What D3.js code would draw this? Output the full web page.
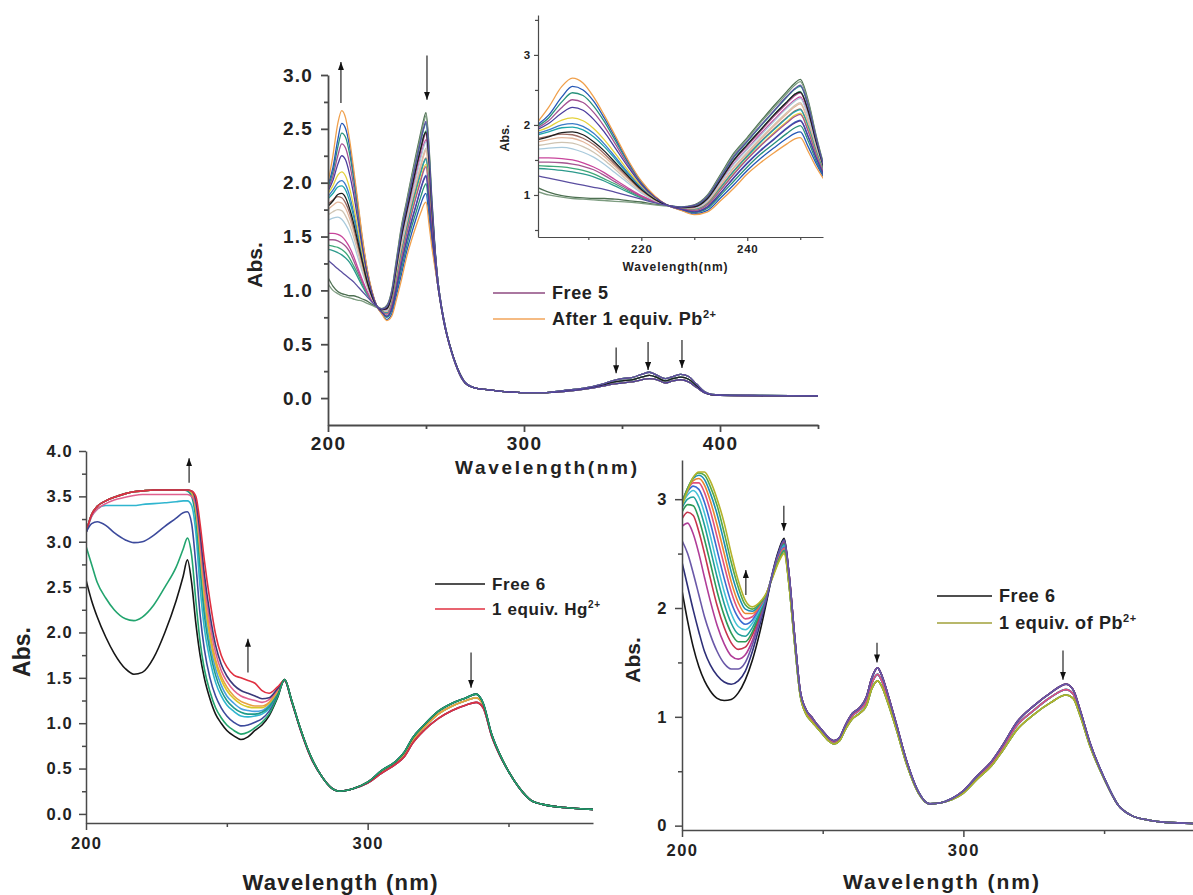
<!DOCTYPE html>
<html>
<head>
<meta charset="utf-8">
<script src="https://cdn.jsdelivr.net/npm/d3@7"></script>
<style>
  body { margin: 0; background: #fff; }
  svg text { font-family: "Liberation Sans", Arial, sans-serif; font-weight: bold; fill: #222; }
</style>
</head>
<body>
<svg id="chart" width="1193" height="895"></svg>
<script>
// ---------- Top panel: compound 5 titrated with Pb2+ (also used by the inset) ----------
const topGrid = [200, 202.5, 205, 207, 209, 211, 213, 215, 217.5, 220, 222.5, 225, 227.5, 230, 232.5, 235, 237.5, 240, 242.5, 245, 247.5, 249, 250, 251.5, 253, 254.5];
const top01 = [1.12, 1.04, 0.99, 0.97, 0.96, 0.95, 0.95, 0.94, 0.92, 0.90, 0.87, 0.85, 0.83, 0.86, 1.00, 1.30, 1.60, 1.82, 2.05, 2.27, 2.48, 2.60, 2.65, 2.35, 1.85, 1.42];
const top02 = [1.06, 1.00, 0.97, 0.95, 0.94, 0.93, 0.92, 0.91, 0.90, 0.88, 0.86, 0.84, 0.83, 0.85, 0.99, 1.28, 1.58, 1.80, 2.03, 2.24, 2.45, 2.57, 2.62, 2.32, 1.83, 1.41];
const top03 = [1.28, 1.24, 1.20, 1.17, 1.14, 1.11, 1.08, 1.04, 0.99, 0.94, 0.89, 0.85, 0.825, 0.85, 0.98, 1.26, 1.55, 1.77, 1.99, 2.20, 2.41, 2.52, 2.57, 2.28, 1.81, 1.40];
const top04 = [1.38, 1.37, 1.35, 1.33, 1.30, 1.26, 1.20, 1.13, 1.04, 0.96, 0.90, 0.85, 0.825, 0.84, 0.97, 1.25, 1.54, 1.76, 1.98, 2.19, 2.40, 2.51, 2.55, 2.27, 1.80, 1.40];
const top05 = [1.42, 1.41, 1.40, 1.38, 1.35, 1.30, 1.23, 1.16, 1.06, 0.97, 0.90, 0.85, 0.82, 0.83, 0.95, 1.22, 1.50, 1.72, 1.93, 2.14, 2.33, 2.44, 2.48, 2.20, 1.76, 1.38];
const top06 = [1.47, 1.47, 1.46, 1.44, 1.41, 1.36, 1.28, 1.19, 1.08, 0.98, 0.90, 0.85, 0.82, 0.83, 0.94, 1.21, 1.49, 1.70, 1.91, 2.12, 2.31, 2.42, 2.46, 2.19, 1.75, 1.38];
const top07 = [1.53, 1.53, 1.52, 1.50, 1.46, 1.40, 1.32, 1.22, 1.10, 0.99, 0.91, 0.85, 0.815, 0.82, 0.93, 1.19, 1.45, 1.66, 1.87, 2.07, 2.26, 2.36, 2.40, 2.13, 1.72, 1.36];
const top08 = [1.65, 1.67, 1.68, 1.66, 1.61, 1.54, 1.44, 1.32, 1.17, 1.03, 0.92, 0.85, 0.815, 0.81, 0.92, 1.18, 1.44, 1.65, 1.85, 2.05, 2.24, 2.34, 2.38, 2.12, 1.71, 1.36];
const top09 = [1.70, 1.73, 1.75, 1.74, 1.69, 1.61, 1.50, 1.37, 1.20, 1.05, 0.93, 0.85, 0.81, 0.80, 0.90, 1.15, 1.40, 1.61, 1.81, 2.00, 2.18, 2.28, 2.32, 2.06, 1.67, 1.34];
const top10 = [1.75, 1.79, 1.82, 1.81, 1.76, 1.67, 1.55, 1.41, 1.23, 1.06, 0.93, 0.85, 0.81, 0.80, 0.89, 1.14, 1.39, 1.59, 1.79, 1.98, 2.16, 2.26, 2.30, 2.04, 1.66, 1.34];
const top11 = [1.80, 1.84, 1.87, 1.86, 1.81, 1.72, 1.59, 1.44, 1.25, 1.07, 0.94, 0.85, 0.805, 0.79, 0.88, 1.11, 1.35, 1.56, 1.76, 1.94, 2.11, 2.20, 2.23, 1.98, 1.62, 1.32];
const top12 = [1.78, 1.83, 1.89, 1.90, 1.86, 1.76, 1.63, 1.47, 1.27, 1.08, 0.94, 0.85, 0.82, 0.83, 0.95, 1.22, 1.50, 1.72, 1.93, 2.14, 2.33, 2.44, 2.47, 2.20, 1.76, 1.38];
const top13 = [1.85, 1.90, 1.96, 1.97, 1.93, 1.83, 1.69, 1.52, 1.30, 1.10, 0.95, 0.85, 0.805, 0.79, 0.87, 1.10, 1.34, 1.55, 1.75, 1.93, 2.10, 2.19, 2.22, 1.97, 1.62, 1.32];
const top14 = [1.87, 1.93, 2.00, 2.02, 1.98, 1.88, 1.73, 1.55, 1.32, 1.11, 0.95, 0.85, 0.795, 0.76, 0.83, 1.03, 1.25, 1.46, 1.64, 1.80, 1.96, 2.04, 2.07, 1.84, 1.54, 1.28];
const top15 = [1.90, 1.97, 2.07, 2.10, 2.06, 1.95, 1.79, 1.60, 1.35, 1.13, 0.96, 0.85, 0.80, 0.78, 0.86, 1.08, 1.31, 1.52, 1.71, 1.89, 2.05, 2.14, 2.17, 1.93, 1.59, 1.30];
const top16 = [1.92, 2.02, 2.17, 2.25, 2.21, 2.08, 1.90, 1.68, 1.40, 1.15, 0.97, 0.85, 0.795, 0.76, 0.83, 1.03, 1.25, 1.45, 1.63, 1.79, 1.95, 2.03, 2.06, 1.83, 1.53, 1.28];
const top17 = [1.94, 2.06, 2.25, 2.36, 2.32, 2.18, 1.98, 1.74, 1.43, 1.17, 0.98, 0.85, 0.80, 0.78, 0.86, 1.07, 1.30, 1.51, 1.70, 1.87, 2.03, 2.12, 2.15, 1.91, 1.58, 1.30];
const top18 = [1.96, 2.10, 2.33, 2.46, 2.42, 2.27, 2.05, 1.79, 1.46, 1.18, 0.98, 0.85, 0.79, 0.75, 0.81, 1.00, 1.20, 1.40, 1.58, 1.73, 1.88, 1.96, 1.99, 1.77, 1.49, 1.26];
const top19 = [1.98, 2.14, 2.40, 2.55, 2.50, 2.34, 2.10, 1.83, 1.48, 1.19, 0.98, 0.85, 0.785, 0.73, 0.78, 0.96, 1.15, 1.35, 1.52, 1.67, 1.81, 1.88, 1.90, 1.69, 1.45, 1.24];
const top20 = [2.00, 2.25, 2.55, 2.67, 2.60, 2.40, 2.14, 1.86, 1.50, 1.20, 0.99, 0.85, 0.78, 0.72, 0.76, 0.92, 1.10, 1.30, 1.46, 1.60, 1.73, 1.80, 1.82, 1.62, 1.40, 1.22];

const topTailGrid = [256, 258, 260, 262, 264, 266, 268, 270, 274, 280, 290, 300, 310, 320, 330, 340, 345, 350, 355, 360, 364, 368, 372, 376, 380, 384, 388, 392, 396, 400, 420, 450];
const topTailHi  = [1.10, 0.84, 0.65, 0.50, 0.38, 0.28, 0.20, 0.145, 0.10, 0.08, 0.06, 0.05, 0.05, 0.07, 0.09, 0.13, 0.16, 0.18, 0.19, 0.22, 0.24, 0.21, 0.18, 0.20, 0.22, 0.20, 0.13, 0.06, 0.035, 0.03, 0.025, 0.02];
const topTailMid = [1.08, 0.83, 0.64, 0.50, 0.38, 0.28, 0.20, 0.14, 0.10, 0.08, 0.06, 0.05, 0.05, 0.065, 0.085, 0.12, 0.145, 0.16, 0.17, 0.195, 0.21, 0.19, 0.16, 0.18, 0.195, 0.175, 0.115, 0.055, 0.03, 0.028, 0.022, 0.02];
const topTailLo  = [1.05, 0.82, 0.63, 0.49, 0.37, 0.27, 0.19, 0.14, 0.10, 0.08, 0.06, 0.05, 0.05, 0.06, 0.08, 0.11, 0.13, 0.14, 0.15, 0.17, 0.18, 0.17, 0.14, 0.16, 0.17, 0.15, 0.10, 0.05, 0.03, 0.025, 0.02, 0.02];

const topSeries = [top01, top02, top03, top04, top05, top06, top07, top08, top09, top10, top11, top12, top13, top14, top15, top16, top17, top18, top19, top20];
const topTails = [topTailHi, topTailHi, topTailHi, topTailHi, topTailHi, topTailHi, topTailMid, topTailMid, topTailMid, topTailMid, topTailMid, topTailMid, topTailMid, topTailLo, topTailLo, topTailLo, topTailLo, topTailLo, topTailLo, topTailLo];
const topColors = ["#4e7052", "#7d9c80", "#5a4ea0", "#2c9a8c", "#3fa878", "#a45590", "#c8459c", "#a9cadc", "#cfc4b2", "#e4b79c", "#9c6b62", "#1e1e1e", "#1fa5aa", "#3a7ac8", "#e4d23c", "#4b3d9e", "#a35192", "#28917a", "#2457b6", "#f0a04c"];
const topOrder = [0, 1, 3, 4, 5, 6, 7, 8, 9, 10, 12, 13, 14, 16, 17, 18, 19, 11, 15, 2];
const topArrows = [[206.6, 2.74, 3.12], [250.5, 3.18, 2.77], [347, 0.47, 0.23], [363.3, 0.52, 0.26], [380.6, 0.54, 0.28]];
const topLegend = ["Free 5", "After 1 equiv. Pb"];
const topLegendColors = ["#8e4a80", "#f2a55a"];

// ---------- Bottom-left: compound 6 titrated with Hg2+ ----------
const hgGrid = [200, 202, 204, 207, 210, 214, 217, 220, 224, 228, 232, 234.5, 236, 237.5, 239, 240.5, 242, 244, 246, 248, 250, 252.5, 255, 257.5, 260, 262.5, 265, 268];
const hgBlack  = [2.58, 2.35, 2.17, 1.95, 1.77, 1.60, 1.54, 1.56, 1.72, 2.00, 2.35, 2.62, 2.80, 2.55, 2.10, 1.75, 1.50, 1.27, 1.10, 1.00, 0.92, 0.86, 0.82, 0.85, 0.92, 0.98, 1.08, 1.28];
const hgGreen  = [2.95, 2.75, 2.55, 2.38, 2.25, 2.15, 2.13, 2.17, 2.30, 2.50, 2.72, 2.92, 3.04, 2.85, 2.35, 1.90, 1.60, 1.35, 1.17, 1.06, 0.98, 0.92, 0.88, 0.90, 0.95, 1.01, 1.10, 1.29];
const hgBlue   = [3.10, 3.20, 3.22, 3.18, 3.10, 3.02, 2.99, 3.00, 3.07, 3.17, 3.26, 3.32, 3.33, 3.20, 2.75, 2.20, 1.82, 1.50, 1.30, 1.17, 1.08, 1.01, 0.97, 0.98, 1.01, 1.05, 1.13, 1.30];
const hgCyan   = [3.10, 3.28, 3.36, 3.40, 3.40, 3.40, 3.40, 3.41, 3.42, 3.43, 3.44, 3.45, 3.45, 3.40, 3.10, 2.50, 2.05, 1.70, 1.45, 1.30, 1.20, 1.13, 1.08, 1.07, 1.08, 1.10, 1.16, 1.32];
const hgTeal   = [3.10, 3.30, 3.39, 3.45, 3.49, 3.53, 3.55, 3.56, 3.57, 3.57, 3.57, 3.57, 3.56, 3.50, 3.25, 2.70, 2.20, 1.80, 1.53, 1.36, 1.25, 1.17, 1.12, 1.10, 1.10, 1.12, 1.18, 1.33];
const hgSky    = [3.10, 3.30, 3.39, 3.45, 3.49, 3.53, 3.55, 3.56, 3.57, 3.57, 3.57, 3.57, 3.57, 3.52, 3.30, 2.80, 2.30, 1.88, 1.60, 1.42, 1.30, 1.22, 1.16, 1.14, 1.13, 1.14, 1.20, 1.34];
const hgYellow = [3.10, 3.30, 3.39, 3.45, 3.49, 3.53, 3.55, 3.56, 3.57, 3.57, 3.57, 3.57, 3.57, 3.54, 3.35, 2.90, 2.40, 1.95, 1.66, 1.48, 1.36, 1.27, 1.21, 1.18, 1.17, 1.17, 1.22, 1.35];
const hgOrange = [3.10, 3.30, 3.39, 3.45, 3.49, 3.53, 3.55, 3.56, 3.57, 3.57, 3.57, 3.57, 3.57, 3.55, 3.38, 2.95, 2.45, 2.00, 1.70, 1.52, 1.40, 1.30, 1.24, 1.21, 1.19, 1.19, 1.23, 1.36];
const hgPink   = [3.10, 3.28, 3.36, 3.42, 3.46, 3.49, 3.51, 3.52, 3.52, 3.52, 3.52, 3.52, 3.52, 3.50, 3.40, 3.00, 2.55, 2.10, 1.78, 1.58, 1.46, 1.36, 1.30, 1.27, 1.25, 1.23, 1.26, 1.37];
const hgPurple = [3.10, 3.30, 3.39, 3.45, 3.49, 3.53, 3.55, 3.56, 3.57, 3.57, 3.57, 3.57, 3.57, 3.56, 3.45, 3.10, 2.65, 2.20, 1.86, 1.65, 1.52, 1.42, 1.36, 1.33, 1.30, 1.27, 1.28, 1.38];
const hgRed    = [3.10, 3.30, 3.39, 3.45, 3.49, 3.53, 3.55, 3.56, 3.57, 3.57, 3.57, 3.57, 3.57, 3.56, 3.50, 3.20, 2.80, 2.35, 1.98, 1.75, 1.62, 1.53, 1.50, 1.47, 1.44, 1.36, 1.33, 1.40];

const hgTailGrid = [270.5, 273, 276, 280, 284, 287, 290, 295, 300, 305, 310, 313, 316, 320, 325, 330, 335, 338.5, 341, 344, 347, 350, 354, 358, 363, 370, 380];
const hgTailTop = [1.48, 1.25, 0.95, 0.62, 0.40, 0.29, 0.25, 0.28, 0.35, 0.48, 0.58, 0.68, 0.84, 0.98, 1.13, 1.22, 1.28, 1.32, 1.22, 0.88, 0.65, 0.47, 0.28, 0.15, 0.10, 0.07, 0.05];
const hgTailMid = [1.48, 1.25, 0.95, 0.62, 0.40, 0.29, 0.25, 0.28, 0.35, 0.47, 0.57, 0.66, 0.81, 0.95, 1.10, 1.19, 1.25, 1.28, 1.20, 0.87, 0.65, 0.47, 0.28, 0.15, 0.10, 0.07, 0.05];
const hgTailLow = [1.47, 1.24, 0.94, 0.61, 0.40, 0.29, 0.25, 0.28, 0.34, 0.45, 0.55, 0.63, 0.78, 0.92, 1.05, 1.14, 1.20, 1.23, 1.17, 0.86, 0.64, 0.47, 0.28, 0.15, 0.10, 0.07, 0.05];

const hgSeries = [hgBlack, hgGreen, hgBlue, hgCyan, hgTeal, hgSky, hgYellow, hgOrange, hgPink, hgPurple, hgRed];
const hgTails = [hgTailTop, hgTailTop, hgTailTop, hgTailTop, hgTailMid, hgTailMid, hgTailMid, hgTailMid, hgTailLow, hgTailLow, hgTailLow];
const hgColors = ["#161616", "#22a46e", "#3c4a9c", "#2fb5cf", "#1f9a8a", "#4aa0e0", "#d8c828", "#e8a040", "#e0608e", "#3a3a7a", "#e03040"];
const hgOrder = [3, 5, 4, 6, 7, 8, 9, 10, 2, 0, 1];
const hgArrows = [[236.6, 3.65, 3.92], [257.5, 1.56, 1.93], [336.7, 1.78, 1.39]];
const hgLegend = ["Free 6", "1 equiv. Hg"];
const hgLegendColors = ["#161616", "#e03040"];

// ---------- Bottom-right: compound 6 titrated with Pb2+ ----------
const pbGrid = [200, 202, 204, 206, 208, 210, 212.5, 215, 217.5, 220, 222.5, 225, 227.5, 230, 232.5, 234.5, 236.3];
const pb00 = [2.16, 1.88, 1.64, 1.46, 1.33, 1.24, 1.17, 1.15, 1.16, 1.22, 1.34, 1.52, 1.76, 2.05, 2.36, 2.54, 2.64];
const pb01 = [2.42, 2.20, 1.98, 1.78, 1.60, 1.48, 1.38, 1.32, 1.30, 1.33, 1.42, 1.60, 1.83, 2.07, 2.35, 2.53, 2.63];
const pb02 = [2.62, 2.50, 2.32, 2.12, 1.92, 1.76, 1.60, 1.49, 1.44, 1.44, 1.50, 1.66, 1.87, 2.09, 2.35, 2.52, 2.62];
const pb03 = [2.75, 2.78, 2.68, 2.50, 2.28, 2.07, 1.84, 1.67, 1.56, 1.53, 1.57, 1.70, 1.90, 2.10, 2.35, 2.51, 2.61];
const pb04 = [2.82, 2.88, 2.85, 2.70, 2.50, 2.28, 2.02, 1.82, 1.68, 1.62, 1.64, 1.75, 1.92, 2.11, 2.34, 2.50, 2.60];
const pb05 = [2.88, 2.95, 2.94, 2.82, 2.63, 2.42, 2.15, 1.93, 1.77, 1.69, 1.69, 1.78, 1.94, 2.11, 2.34, 2.50, 2.59];
const pb06 = [2.92, 3.00, 3.02, 2.93, 2.76, 2.55, 2.28, 2.04, 1.86, 1.76, 1.74, 1.82, 1.96, 2.12, 2.34, 2.49, 2.58];
const pb07 = [2.95, 3.04, 3.08, 3.02, 2.87, 2.67, 2.40, 2.15, 1.95, 1.83, 1.80, 1.86, 1.98, 2.12, 2.33, 2.48, 2.57];
const pb08 = [2.97, 3.07, 3.12, 3.09, 2.97, 2.79, 2.53, 2.27, 2.05, 1.91, 1.85, 1.89, 2.00, 2.12, 2.33, 2.48, 2.56];
const pb09 = [2.98, 3.09, 3.15, 3.15, 3.06, 2.90, 2.65, 2.39, 2.15, 1.98, 1.90, 1.92, 2.01, 2.13, 2.32, 2.47, 2.55];
const pb10 = [2.97, 3.10, 3.17, 3.19, 3.13, 2.99, 2.76, 2.50, 2.24, 2.05, 1.95, 1.95, 2.02, 2.13, 2.32, 2.46, 2.54];
const pb11 = [2.97, 3.10, 3.19, 3.22, 3.18, 3.06, 2.86, 2.60, 2.33, 2.12, 1.99, 1.97, 2.03, 2.13, 2.31, 2.45, 2.53];
const pb12 = [2.96, 3.10, 3.20, 3.24, 3.22, 3.12, 2.94, 2.69, 2.42, 2.19, 2.03, 1.99, 2.04, 2.13, 2.31, 2.44, 2.52];
const pb13 = [2.94, 3.08, 3.20, 3.25, 3.25, 3.17, 3.00, 2.78, 2.50, 2.25, 2.07, 2.01, 2.05, 2.14, 2.30, 2.43, 2.50];

const pbTailGrid = [238, 240, 242, 244, 246, 248, 250, 252, 254, 256, 258, 260.5, 263, 265.5, 267.5, 269.5, 271, 273, 276, 280, 284, 288, 292, 296, 300, 305, 310, 314, 319, 325, 331, 336.5, 339, 341.5, 345, 350, 355, 360, 366, 372, 382];
const pbTailTop = [2.32, 1.75, 1.24, 1.07, 1.00, 0.93, 0.87, 0.81, 0.78, 0.81, 0.92, 1.03, 1.08, 1.18, 1.36, 1.45, 1.38, 1.22, 0.95, 0.58, 0.31, 0.20, 0.21, 0.25, 0.32, 0.46, 0.59, 0.74, 0.95, 1.10, 1.22, 1.30, 1.25, 1.06, 0.76, 0.44, 0.19, 0.09, 0.05, 0.03, 0.02];
const pbTailMid = [2.28, 1.72, 1.22, 1.05, 0.98, 0.92, 0.86, 0.80, 0.77, 0.80, 0.90, 1.01, 1.06, 1.14, 1.31, 1.39, 1.33, 1.18, 0.93, 0.57, 0.31, 0.20, 0.21, 0.25, 0.31, 0.45, 0.57, 0.72, 0.92, 1.06, 1.18, 1.25, 1.21, 1.04, 0.75, 0.44, 0.19, 0.09, 0.05, 0.03, 0.02];
const pbTailLow = [2.22, 1.68, 1.20, 1.03, 0.96, 0.90, 0.84, 0.78, 0.75, 0.78, 0.88, 0.98, 1.03, 1.10, 1.26, 1.33, 1.28, 1.14, 0.90, 0.55, 0.30, 0.20, 0.21, 0.24, 0.30, 0.43, 0.55, 0.69, 0.88, 1.02, 1.13, 1.20, 1.17, 1.01, 0.73, 0.43, 0.19, 0.09, 0.05, 0.03, 0.02];

const pbSeries = [pb00, pb01, pb02, pb03, pb04, pb05, pb06, pb07, pb08, pb09, pb10, pb11, pb12, pb13];
const pbTails = [pbTailTop, pbTailTop, pbTailTop, pbTailTop, pbTailTop, pbTailMid, pbTailMid, pbTailMid, pbTailMid, pbTailMid, pbTailLow, pbTailLow, pbTailLow, pbTailLow];
const pbColors = ["#151515", "#2e2f78", "#6a58a8", "#b03c98", "#c8344c", "#2f9a55", "#1fa09a", "#45c2d6", "#3a6cd2", "#e0507e", "#e8862e", "#1a8fb5", "#55a845", "#b5b22a"];
const pbOrder = [0, 3, 4, 5, 6, 7, 8, 9, 10, 11, 12, 13, 1, 2];
const pbArrows = [[222.7, 2.12, 2.35], [236.2, 2.94, 2.71], [269.3, 1.68, 1.50], [335.4, 1.61, 1.34]];
const pbLegend = ["Free 6", "1 equiv. of Pb"];
const pbLegendColors = ["#151515", "#a0a03a"];

// ---------- drawing ----------
const svg = d3.select("#chart");

svg.append("defs").append("marker")
    .attr("id", "head")
    .attr("viewBox", "0 -3 8 6")
    .attr("refX", 8).attr("refY", 0)
    .attr("markerWidth", 8).attr("markerHeight", 6)
    .attr("markerUnits", "userSpaceOnUse")
    .attr("orient", "auto")
  .append("path")
    .attr("d", "M0,-3L8,0L0,3Z")
    .attr("fill", "#111");

function joinPoints(grid, vals, tailGrid, tail) {
  let pts = grid.map((w, i) => [w, vals[i]]);
  return pts.concat(tailGrid.map((w, i) => [w, tail[i]]));
}

function drawPanel(p) {
  let g = svg.append("g");
  let x = d3.scaleLinear().domain(p.xDomain).range(p.xRange);
  let y = d3.scaleLinear().domain(p.yDomain).range(p.yRange);

  let clipId = "clip" + p.id;
  svg.select("defs").append("clipPath").attr("id", clipId)
    .append("rect")
      .attr("x", p.xRange[0]).attr("y", p.yRange[1] - 10)
      .attr("width", p.xRange[1] - p.xRange[0])
      .attr("height", p.yRange[0] - p.yRange[1] + 10);

  // curves
  let line = d3.line()
    .x((d) => x(d[0]))
    .y((d) => y(d[1]))
    .curve(d3.curveMonotoneX);

  g.append("g").attr("clip-path", "url(#" + clipId + ")")
    .selectAll("path").data(p.order).join("path")
      .attr("d", (i) => line(joinPoints(p.grid, p.series[i], p.tailGrid, p.tails[i])))
      .attr("fill", "none")
      .attr("stroke", (i) => p.colors[i])
      .attr("stroke-width", p.lineWidth);

  // axes: minor ticks first, then major with labels
  let xMinor = d3.axisBottom(x).tickValues(p.xMinor).tickSize(p.minorLen).tickFormat("");
  let yMinor = d3.axisLeft(y).tickValues(p.yMinor).tickSize(p.minorLen).tickFormat("");
  let xMajor = d3.axisBottom(x).tickValues(p.xMajor).tickSize(p.majorLen).tickSizeOuter(0)
    .tickPadding(p.xPad).tickFormat(d3.format("d"));
  let yMajor = d3.axisLeft(y).tickValues(p.yMajor).tickSize(p.majorLen).tickSizeOuter(0)
    .tickPadding(p.yPad).tickFormat(d3.format(p.yFormat));

  let ax = g.append("g").attr("transform", "translate(0," + p.yRange[0] + ")");
  ax.append("g").call(xMinor).select(".domain").remove();
  ax.append("g").call(xMajor);
  let ay = g.append("g").attr("transform", "translate(" + p.xRange[0] + ",0)");
  ay.append("g").call(yMinor).select(".domain").remove();
  ay.append("g").call(yMajor);

  g.selectAll(".domain, .tick line")
    .attr("stroke", p.axisColor)
    .attr("stroke-width", p.axisWidth);
  g.selectAll(".tick text")
    .attr("fill", "#222")
    .style("font-size", p.tickFont + "px")
    .style("letter-spacing", p.tickSpacing + "px")
    .style("font-family", "'Liberation Sans', Arial, sans-serif")
    .style("font-weight", "bold");

  // axis titles
  g.append("text")
    .attr("x", p.xTitle[0]).attr("y", p.xTitle[1])
    .attr("text-anchor", "middle")
    .attr("textLength", p.xTitle[3]).attr("lengthAdjust", "spacing")
    .style("font-size", p.xTitle[2] + "px")
    .text(p.xLabel);
  g.append("text")
    .attr("transform", "translate(" + p.yTitle[0] + "," + p.yTitle[1] + ") rotate(-90)")
    .attr("text-anchor", "middle")
    .style("font-size", p.yTitle[2] + "px")
    .text("Abs.");

  // arrows
  if (p.arrows) {
    g.append("g").selectAll("line").data(p.arrows).join("line")
      .attr("x1", (d) => x(d[0])).attr("x2", (d) => x(d[0]))
      .attr("y1", (d) => y(d[1])).attr("y2", (d) => y(d[2]))
      .attr("stroke", "#111")
      .attr("stroke-width", 1.1)
      .attr("marker-end", "url(#head)");
  }

  // legend
  if (p.legend) {
    let lg = g.append("g");
    p.legend.forEach((label, i) => {
      let ly = p.legendPos[1] + i * p.legendStep;
      lg.append("line")
        .attr("x1", p.legendPos[0]).attr("x2", p.legendPos[0] + p.legendLen)
        .attr("y1", ly).attr("y2", ly)
        .attr("stroke", p.legendColors[i]).attr("stroke-width", 1.6);
      let t = lg.append("text")
        .attr("x", p.legendPos[0] + p.legendLen + 7)
        .attr("y", ly + p.legendFont * 0.36)
        .style("font-size", p.legendFont + "px")
        .style("letter-spacing", "0.6px");
      t.append("tspan").text(label);
      if (i == 1) {
        t.append("tspan")
          .attr("dy", -p.legendFont * 0.42)
          .style("font-size", Math.round(p.legendFont * 0.6) + "px")
          .text("2+");
      }
    });
  }
  return {x: x, y: y};
}

// top main panel
drawPanel({
  id: "top",
  xDomain: [200, 450], xRange: [328, 818],
  yDomain: [-0.25, 3.0], yRange: [425, 75],
  grid: topGrid, tailGrid: topTailGrid, series: topSeries, tails: topTails,
  colors: topColors, order: topOrder, lineWidth: 1.3,
  xMajor: [200, 300, 400], xMinor: [250, 350, 450],
  yMajor: [0, 0.5, 1, 1.5, 2, 2.5, 3], yMinor: [0.25, 0.75, 1.25, 1.75, 2.25, 2.75],
  yFormat: ".1f", majorLen: 7, minorLen: 4, xPad: 5, yPad: 8,
  axisColor: "#4a4a4a", axisWidth: 1.8, tickFont: 19, tickSpacing: 1.2,
  xLabel: "Wavelength(nm)", xTitle: [546, 474, 19, 182],
  yTitle: [262, 265, 21],
  arrows: topArrows
});

// inset (same data, zoomed)
drawPanel({
  id: "inset",
  xDomain: [200.5, 254.3], xRange: [538, 823],
  yDomain: [0.4, 3.57], yRange: [237, 15],
  grid: topGrid, tailGrid: topTailGrid, series: topSeries, tails: topTails,
  colors: topColors, order: topOrder, lineWidth: 1.3,
  xMajor: [220, 240], xMinor: [210, 230, 250],
  yMajor: [1, 2, 3], yMinor: [0.5, 1.5, 2.5, 3.5],
  yFormat: "d", majorLen: 4, minorLen: 3, xPad: 4, yPad: 3,
  axisColor: "#4a4a4a", axisWidth: 1.2, tickFont: 11.5, tickSpacing: 0.8,
  xLabel: "Wavelength(nm)", xTitle: [675, 271, 12, 105],
  yTitle: [509, 138, 12.5],
  legend: topLegend, legendColors: topLegendColors,
  legendPos: [493, 293], legendStep: 26, legendLen: 52, legendFont: 18
});

// bottom-left: Hg2+
drawPanel({
  id: "hg",
  xDomain: [200, 380], xRange: [86, 593],
  yDomain: [-0.1, 4.0], yRange: [823, 451],
  grid: hgGrid, tailGrid: hgTailGrid, series: hgSeries, tails: hgTails,
  colors: hgColors, order: hgOrder, lineWidth: 1.6,
  xMajor: [200, 300], xMinor: [250, 350],
  yMajor: [0, 0.5, 1, 1.5, 2, 2.5, 3, 3.5, 4], yMinor: [0.25, 0.75, 1.25, 1.75, 2.25, 2.75, 3.25, 3.75],
  yFormat: ".1f", majorLen: 7, minorLen: 4, xPad: 7, yPad: 6,
  axisColor: "#4a4a4a", axisWidth: 1.5, tickFont: 16.5, tickSpacing: 1.2,
  xLabel: "Wavelength (nm)", xTitle: [340, 890, 22, 195],
  yTitle: [30, 652, 23],
  arrows: hgArrows,
  legend: hgLegend, legendColors: hgLegendColors,
  legendPos: [435, 584], legendStep: 25, legendLen: 50, legendFont: 17
});

// bottom-right: Pb2+
drawPanel({
  id: "pb",
  xDomain: [200, 381.6], xRange: [682, 1193],
  yDomain: [-0.04, 3.36], yRange: [830, 460],
  grid: pbGrid, tailGrid: pbTailGrid, series: pbSeries, tails: pbTails,
  colors: pbColors, order: pbOrder, lineWidth: 1.6,
  xMajor: [200, 300], xMinor: [250, 350],
  yMajor: [0, 1, 2, 3], yMinor: [0.5, 1.5, 2.5],
  yFormat: "d", majorLen: 7, minorLen: 4, xPad: 7, yPad: 7,
  axisColor: "#4a4a4a", axisWidth: 1.5, tickFont: 16.5, tickSpacing: 1.5,
  xLabel: "Wavelength (nm)", xTitle: [941, 889, 21, 196],
  yTitle: [640, 660, 21],
  arrows: pbArrows,
  legend: pbLegend, legendColors: pbLegendColors,
  legendPos: [937, 596], legendStep: 27, legendLen: 55, legendFont: 18
});
</script>
</body>
</html>
